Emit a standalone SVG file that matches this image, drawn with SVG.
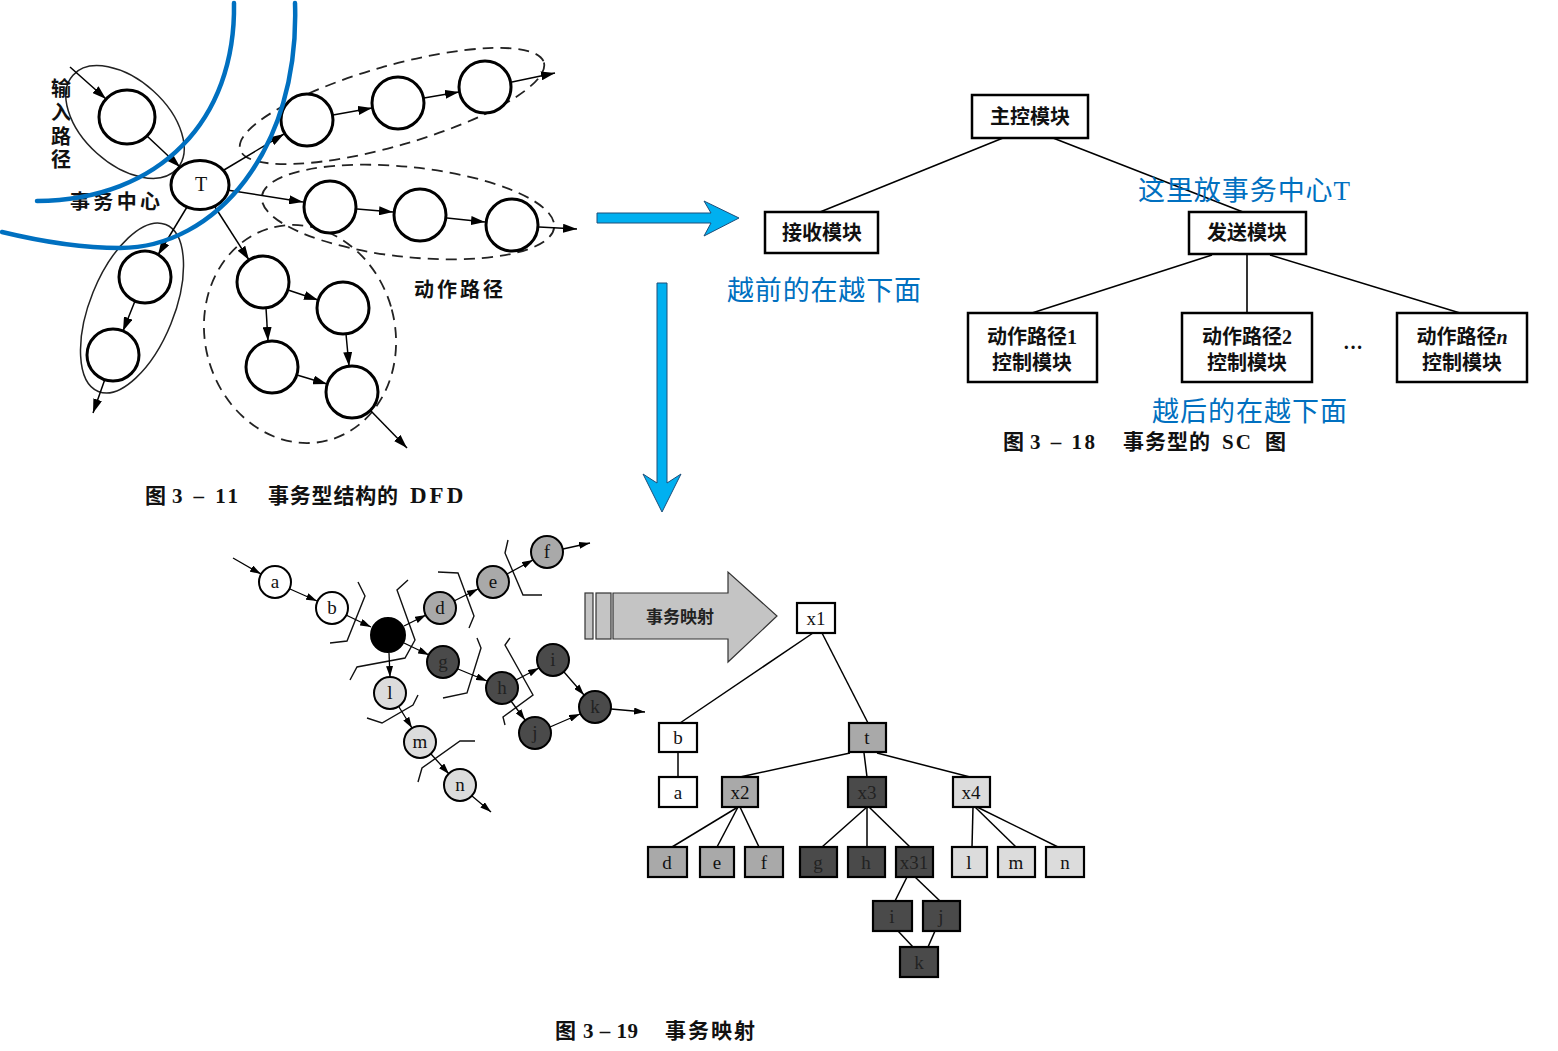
<svg xmlns="http://www.w3.org/2000/svg" width="1558" height="1051" viewBox="0 0 1558 1051">
<defs>
<style>
.c{fill:#fff;stroke:#000;stroke-width:3}
.lnA{stroke:#000;stroke-width:1.5;fill:none;marker-end:url(#ah)}
.lnB{stroke:#000;stroke-width:1.3;fill:none;marker-end:url(#ahs)}
.dash{fill:none;stroke:#222;stroke-width:1.8;stroke-dasharray:11 7}
.solidE{fill:none;stroke:#222;stroke-width:1.5}
.blue{fill:none;stroke:#0070c0;stroke-width:4.5;stroke-linecap:round}
.barrow{fill:#00b0f0;stroke:#1f4e79;stroke-width:1}
.lab{font-family:"Liberation Serif","Noto Sans CJK SC",serif;font-size:20px;fill:#111}
.cap{font-family:"Liberation Serif","Noto Sans CJK SC",serif;font-size:21px;fill:#111;font-weight:bold}
.bold{font-weight:bold}
.btxt{font-family:"Liberation Serif","Noto Sans CJK SC",serif;font-size:27px;fill:#0070c0}
.box{fill:#fff;stroke:#000;stroke-width:2.5}
.bt{font-family:"Liberation Serif","Noto Sans CJK SC",serif;font-size:20px;font-weight:bold;text-anchor:middle;fill:#111}
.sc{stroke:#000;stroke-width:1.6}
.cs{stroke:#000;stroke-width:2}
.w{fill:#fff}
.g1{fill:#a9a9a9}
.g2{fill:#4a4a4a}
.g3{fill:#dcdcdc}
.blk{fill:#000}
.ct{font-family:"Liberation Serif",serif;font-size:19px;text-anchor:middle;fill:#111}
.ctd{font-family:"Liberation Serif",serif;font-size:19px;text-anchor:middle;fill:#222}
.tb{stroke:#000;stroke-width:2.2}
.tl{stroke:#000;stroke-width:1.5}
.cut{fill:none;stroke:#111;stroke-width:1.4}
</style>
<marker id="ah" viewBox="0 0 14 9" refX="14" refY="4.5" markerWidth="14" markerHeight="9" orient="auto" markerUnits="userSpaceOnUse"><path d="M0,0 L14,4.5 L0,9 z" fill="#000"/></marker>
<marker id="ahs" viewBox="0 0 11 7" refX="11" refY="3.5" markerWidth="11" markerHeight="7" orient="auto" markerUnits="userSpaceOnUse"><path d="M0,0 L11,3.5 L0,7 z" fill="#000"/></marker>
</defs>
<rect width="1558" height="1051" fill="#fff"/>

<!-- ============ Figure 3-11 ============ -->
<g id="fig311-groups">
<ellipse class="solidE" cx="125" cy="122" rx="70" ry="42" transform="rotate(42 125 122)"/>
<ellipse class="solidE" cx="132" cy="308" rx="42" ry="90" transform="rotate(22 132 308)"/>
<ellipse class="dash" cx="392" cy="106" rx="158" ry="40" transform="rotate(-16 392 106)"/>
<ellipse class="dash" cx="408" cy="212" rx="147" ry="45" transform="rotate(6 408 212)"/>
<ellipse class="dash" cx="300" cy="334" rx="95" ry="110" transform="rotate(-15 300 334)"/>
</g>

<g id="fig311-connectors">
<line class="lnA" x1="70" y1="67" x2="106" y2="99"/>
<line class="lnA" x1="147" y1="136" x2="180" y2="167"/>
<line class="lnA" x1="224" y1="170" x2="284" y2="134"/>
<line class="lnA" x1="333" y1="115" x2="372" y2="108"/>
<line class="lnA" x1="424" y1="98" x2="459" y2="92"/>
<line class="lnA" x1="512" y1="82" x2="555" y2="73"/>
<line class="lnA" x1="227" y1="190" x2="303" y2="202"/>
<line class="lnA" x1="357" y1="209" x2="393" y2="212"/>
<line class="lnA" x1="447" y1="218" x2="485" y2="222"/>
<line class="lnA" x1="539" y1="227" x2="577" y2="229"/>
<line class="lnA" x1="215" y1="207" x2="249" y2="260"/>
<line class="lnA" x1="288" y1="290" x2="318" y2="300"/>
<line class="lnA" x1="266" y1="308" x2="268" y2="341"/>
<line class="lnA" x1="346" y1="334" x2="349" y2="366"/>
<line class="lnA" x1="297" y1="375" x2="327" y2="384"/>
<line class="lnA" x1="370" y1="410" x2="407" y2="448"/>
<line class="lnA" x1="187" y1="207" x2="158" y2="255"/>
<line class="lnA" x1="135" y1="301" x2="123" y2="331"/>
<line class="lnA" x1="105" y1="379" x2="93" y2="413"/>
</g>

<g id="n-in"><ellipse class="c" cx="127" cy="117" rx="28" ry="27"/></g>
<g id="n-T"><ellipse class="c" cx="200" cy="185" rx="29" ry="24.5"/><text class="lab" x="201" y="191" text-anchor="middle">T</text></g>
<g id="n-top1"><circle class="c" cx="307" cy="120" r="26"/></g>
<g id="n-top2"><circle class="c" cx="398" cy="103" r="26"/></g>
<g id="n-top3"><circle class="c" cx="485" cy="87" r="26"/></g>
<g id="n-mid1"><circle class="c" cx="330" cy="207" r="26"/></g>
<g id="n-mid2"><circle class="c" cx="420" cy="215" r="26"/></g>
<g id="n-mid3"><circle class="c" cx="512" cy="225" r="26"/></g>
<g id="n-lr1"><circle class="c" cx="263" cy="282" r="26"/></g>
<g id="n-lr2"><circle class="c" cx="343" cy="308" r="26"/></g>
<g id="n-lr3"><circle class="c" cx="272" cy="367" r="26"/></g>
<g id="n-lr4"><circle class="c" cx="352" cy="392" r="26"/></g>
<g id="n-ll1"><circle class="c" cx="145" cy="277" r="26"/></g>
<g id="n-ll2"><circle class="c" cx="113" cy="355" r="26"/></g>

<g id="fig311-labels">
<text class="lab" text-anchor="middle" font-weight="bold"><tspan x="61" y="96">输</tspan><tspan x="61" y="120">入</tspan><tspan x="61" y="144">路</tspan><tspan x="61" y="167">径</tspan></text>
<text class="lab bold" x="70" y="209" textLength="90">事务中心</text>
<text class="lab bold" x="414" y="297" textLength="89">动作路径</text>
<text class="cap" y="503"><tspan x="145">图</tspan><tspan x="172" textLength="66">3 – 11</tspan><tspan x="268" textLength="130">事务型结构的</tspan><tspan x="410" font-size="23" letter-spacing="3">DFD</tspan></text>
</g>

<g id="blue-arcs">
<path class="blue" d="M 234 3 C 236 120 160 200 37 201"/>
<path class="blue" d="M 295 3 C 300 150 215 248 120 248 C 75 248 35 240 2 232"/>
</g>

<g id="blue-arrows">
<polygon class="barrow" points="597,213 711,213 704,201 739,218 704,236 711,223 597,223"/>
<polygon class="barrow" points="657,283 667,283 667,483 681,474 662,512 643,474 657,483"/>
</g>

<!-- ============ Figure 3-18 ============ -->
<g id="sc-connectors">
<line class="sc" x1="1003" y1="138" x2="820" y2="212"/>
<line class="sc" x1="1053" y1="138" x2="1243" y2="212"/>
<line class="sc" x1="1212" y1="255" x2="1032" y2="313"/>
<line class="sc" x1="1247" y1="255" x2="1247" y2="313"/>
<line class="sc" x1="1270" y1="255" x2="1460" y2="313"/>
</g>
<g id="sc-main"><rect class="box" x="972" y="95" width="116" height="43"/><text class="bt" x="1030" y="124">主控模块</text></g>
<g id="sc-recv"><rect class="box" x="765" y="212" width="113" height="41"/><text class="bt" x="822" y="240">接收模块</text></g>
<g id="sc-send"><rect class="box" x="1189" y="212" width="117" height="42"/><text class="bt" x="1247" y="240">发送模块</text></g>
<g id="sc-p1"><rect class="box" x="968" y="313" width="129" height="69"/><text class="bt" x="1032" y="344">动作路径1</text><text class="bt" x="1032" y="370">控制模块</text></g>
<g id="sc-p2"><rect class="box" x="1182" y="313" width="130" height="69"/><text class="bt" x="1247" y="344">动作路径2</text><text class="bt" x="1247" y="370">控制模块</text></g>
<g id="sc-pn"><rect class="box" x="1397" y="313" width="130" height="69"/><text class="bt" x="1462" y="344">动作路径<tspan font-style="italic">n</tspan></text><text class="bt" x="1462" y="370">控制模块</text></g>
<text class="bt" x="1353" y="354">···</text>
<text class="cap" y="449"><tspan x="1003">图</tspan><tspan x="1030" textLength="65">3 – 18</tspan><tspan x="1123" textLength="87">事务型的</tspan><tspan x="1222" letter-spacing="2">SC</tspan><tspan x="1265">图</tspan></text>

<text class="btxt" x="1138" y="200" textLength="212">这里放事务中心T</text>
<text class="btxt" x="727" y="300" textLength="194">越前的在越下面</text>
<text class="btxt" x="1152" y="421" textLength="195">越后的在越下面</text>

<!-- ============ Figure 3-19 ============ -->
<g id="cuts">
<polyline class="cut" points="358,582 365,596 347,641 330,643"/>
<polyline class="cut" points="408,580 397,590 415,640 405,658 357,667 350,680"/>
<polyline class="cut" points="438,572 458,573 474,616 469,628"/>
<polyline class="cut" points="508,540 505,553 523,595 542,595"/>
<polyline class="cut" points="477,638 481,648 467,693 443,698"/>
<polyline class="cut" points="510,638 505,645 533,695 503,717 505,725"/>
<polyline class="cut" points="367,718 382,723 413,705 418,695"/>
<polyline class="cut" points="418,782 422,768 460,741 475,741"/>
</g>

<g id="dfd-connectors">
<line class="lnB" x1="233" y1="558" x2="261" y2="574"/>
<line class="lnB" x1="290" y1="589" x2="317" y2="601"/>
<line class="lnB" x1="346" y1="615" x2="371" y2="627"/>
<line class="lnB" x1="404" y1="626" x2="426" y2="615"/>
<line class="lnB" x1="454" y1="601" x2="478" y2="589"/>
<line class="lnB" x1="507" y1="574" x2="533" y2="560"/>
<line class="lnB" x1="563" y1="549" x2="590" y2="543"/>
<line class="lnB" x1="404" y1="643" x2="429" y2="655"/>
<line class="lnB" x1="458" y1="669" x2="487" y2="681"/>
<line class="lnB" x1="516" y1="680" x2="539" y2="668"/>
<line class="lnB" x1="511" y1="701" x2="525" y2="720"/>
<line class="lnB" x1="564" y1="672" x2="584" y2="695"/>
<line class="lnB" x1="550" y1="727" x2="580" y2="714"/>
<line class="lnB" x1="611" y1="709" x2="645" y2="712"/>
<line class="lnB" x1="389" y1="653" x2="390" y2="677"/>
<line class="lnB" x1="399" y1="707" x2="412" y2="728"/>
<line class="lnB" x1="431" y1="754" x2="449" y2="774"/>
<line class="lnB" x1="472" y1="796" x2="491" y2="812"/>
</g>

<g id="d-a"><circle class="cs w" cx="275" cy="582" r="16"/><text class="ct" x="275" y="588">a</text></g>
<g id="d-b"><circle class="cs w" cx="332" cy="608" r="16"/><text class="ct" x="332" y="614">b</text></g>
<g id="d-t"><circle class="cs blk" cx="388" cy="635" r="17"/></g>
<g id="d-d"><circle class="cs g1" cx="440" cy="608" r="16"/><text class="ct" x="440" y="614">d</text></g>
<g id="d-e"><circle class="cs g1" cx="493" cy="582" r="16"/><text class="ct" x="493" y="588">e</text></g>
<g id="d-f"><circle class="cs g1" cx="547" cy="552" r="16"/><text class="ct" x="547" y="558">f</text></g>
<g id="d-g"><circle class="cs g2" cx="443" cy="662" r="16"/><text class="ctd" x="443" y="668">g</text></g>
<g id="d-h"><circle class="cs g2" cx="502" cy="688" r="16"/><text class="ctd" x="502" y="694">h</text></g>
<g id="d-i"><circle class="cs g2" cx="553" cy="660" r="16"/><text class="ctd" x="553" y="666">i</text></g>
<g id="d-j"><circle class="cs g2" cx="535" cy="733" r="16"/><text class="ctd" x="535" y="739">j</text></g>
<g id="d-k"><circle class="cs g2" cx="595" cy="707" r="16"/><text class="ctd" x="595" y="713">k</text></g>
<g id="d-l"><circle class="cs g3" cx="390" cy="693" r="16"/><text class="ct" x="390" y="699">l</text></g>
<g id="d-m"><circle class="cs g3" cx="420" cy="742" r="16"/><text class="ct" x="420" y="748">m</text></g>
<g id="d-n"><circle class="cs g3" cx="460" cy="785" r="16"/><text class="ct" x="460" y="791">n</text></g>

<g id="map-arrow">
<rect x="585" y="593" width="8" height="46" fill="#c4c4c4" stroke="#333" stroke-width="1.2"/>
<rect x="596" y="593" width="15" height="46" fill="#c4c4c4" stroke="#333" stroke-width="1.2"/>
<polygon points="613,593 728,593 728,572 777,616 728,662 728,639 613,639" fill="#c4c4c4" stroke="#333" stroke-width="1.2"/>
<text x="680" y="623" text-anchor="middle" font-family="Noto Sans CJK SC,sans-serif" font-size="17" font-weight="bold" fill="#222">事务映射</text>
</g>

<g id="tree-connectors">
<line class="tl" x1="813" y1="633" x2="680" y2="723"/>
<line class="tl" x1="822" y1="633" x2="868" y2="723"/>
<line class="tl" x1="678" y1="752" x2="678" y2="777"/>
<line class="tl" x1="850" y1="753" x2="740" y2="777"/>
<line class="tl" x1="864" y1="753" x2="867" y2="777"/>
<line class="tl" x1="877" y1="753" x2="970" y2="777"/>
<line class="tl" x1="738" y1="807" x2="672" y2="847"/>
<line class="tl" x1="738" y1="807" x2="717" y2="847"/>
<line class="tl" x1="740" y1="807" x2="759" y2="847"/>
<line class="tl" x1="867" y1="807" x2="822" y2="847"/>
<line class="tl" x1="867" y1="807" x2="867" y2="847"/>
<line class="tl" x1="869" y1="807" x2="910" y2="847"/>
<line class="tl" x1="973" y1="807" x2="972" y2="847"/>
<line class="tl" x1="975" y1="807" x2="1016" y2="847"/>
<line class="tl" x1="977" y1="807" x2="1058" y2="847"/>
<line class="tl" x1="907" y1="877" x2="895" y2="901"/>
<line class="tl" x1="915" y1="877" x2="940" y2="901"/>
<line class="tl" x1="898" y1="931" x2="913" y2="947"/>
<line class="tl" x1="935" y1="931" x2="928" y2="947"/>
</g>

<g id="t-x1"><rect class="tb w" x="797" y="603" width="38" height="30"/><text class="ct" x="816" y="625">x1</text></g>
<g id="t-b"><rect class="tb w" x="659" y="723" width="38" height="29"/><text class="ct" x="678" y="744">b</text></g>
<g id="t-a"><rect class="tb w" x="659" y="777" width="38" height="30"/><text class="ct" x="678" y="799">a</text></g>
<g id="t-t"><rect class="tb g1" x="849" y="723" width="37" height="29"/><text class="ct" x="867" y="744">t</text></g>
<g id="t-x2"><rect class="tb g1" x="722" y="777" width="36" height="30"/><text class="ct" x="740" y="799">x2</text></g>
<g id="t-x3"><rect class="tb g2" x="848" y="777" width="38" height="30"/><text class="ctd" x="867" y="799">x3</text></g>
<g id="t-x4"><rect class="tb g3" x="953" y="777" width="37" height="30"/><text class="ct" x="971" y="799">x4</text></g>
<g id="t-d"><rect class="tb g1" x="648" y="847" width="39" height="30"/><text class="ct" x="667" y="869">d</text></g>
<g id="t-e"><rect class="tb g1" x="700" y="847" width="34" height="30"/><text class="ct" x="717" y="869">e</text></g>
<g id="t-f"><rect class="tb g1" x="745" y="847" width="38" height="30"/><text class="ct" x="764" y="869">f</text></g>
<g id="t-g"><rect class="tb g2" x="800" y="847" width="37" height="30"/><text class="ctd" x="818" y="869">g</text></g>
<g id="t-h"><rect class="tb g2" x="848" y="847" width="37" height="30"/><text class="ctd" x="866" y="869">h</text></g>
<g id="t-x31"><rect class="tb g2" x="896" y="847" width="37" height="30"/><text class="ctd" x="914" y="869">x31</text></g>
<g id="t-l"><rect class="tb g3" x="952" y="847" width="35" height="30"/><text class="ct" x="969" y="869">l</text></g>
<g id="t-m"><rect class="tb g3" x="998" y="847" width="37" height="30"/><text class="ct" x="1016" y="869">m</text></g>
<g id="t-n"><rect class="tb g3" x="1046" y="847" width="38" height="30"/><text class="ct" x="1065" y="869">n</text></g>
<g id="t-i"><rect class="tb g2" x="873" y="901" width="39" height="30"/><text class="ctd" x="892" y="923">i</text></g>
<g id="t-j"><rect class="tb g2" x="923" y="901" width="37" height="30"/><text class="ctd" x="941" y="923">j</text></g>
<g id="t-k"><rect class="tb g2" x="900" y="947" width="38" height="30"/><text class="ctd" x="919" y="969">k</text></g>

<text class="cap" y="1038"><tspan x="555">图</tspan><tspan x="583" textLength="55">3 – 19</tspan><tspan x="665" textLength="90">事务映射</tspan></text>
</svg>
